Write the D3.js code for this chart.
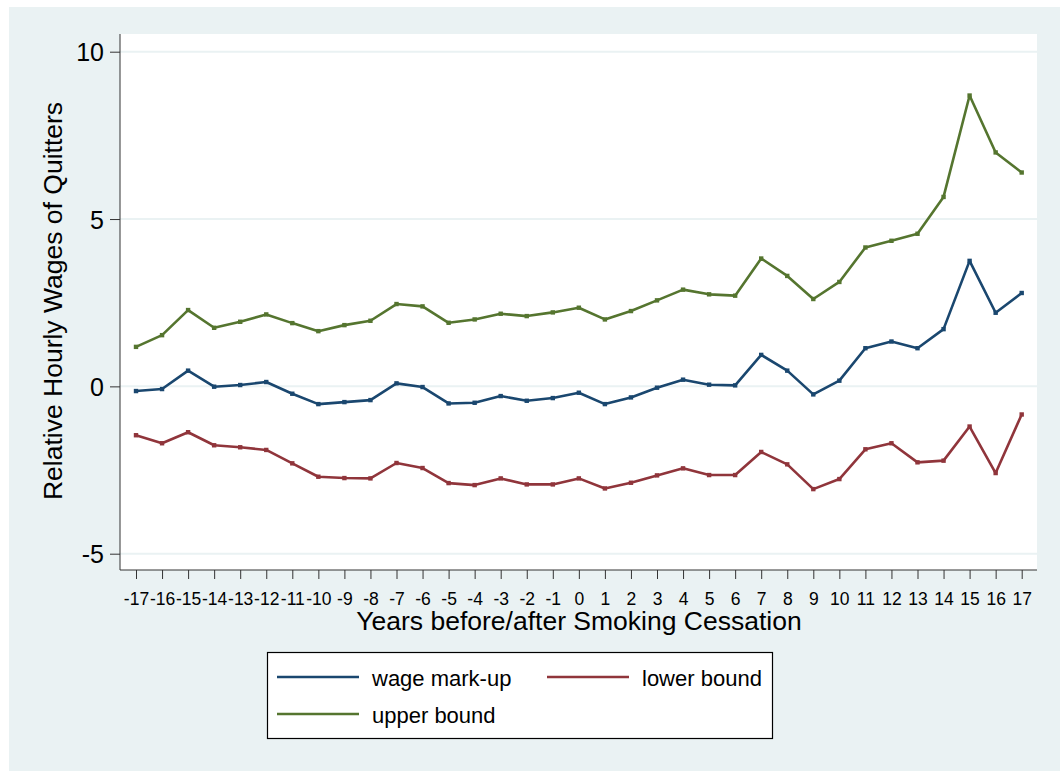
<!DOCTYPE html>
<html>
<head>
<meta charset="utf-8">
<script src="https://cdn.jsdelivr.net/npm/d3@7"></script>
<style>
    html, body { margin: 0; padding: 0; background: #fff; overflow: hidden; }
    svg { display: block; }
    svg text { font-family: "Liberation Sans", Arial, sans-serif; fill: #000; }
</style>
</head>
<body>
<div id="chart"></div>
<script>

// data
let years = d3.range(-17, 18);
let wageMarkup = [-0.14, -0.08, 0.47, -0.01, 0.04, 0.13, -0.22, -0.53, -0.47, -0.41, 0.09, -0.02,
    -0.51, -0.49, -0.29, -0.43, -0.35, -0.19, -0.53, -0.33, -0.04, 0.20, 0.05, 0.03,
    0.94, 0.47, -0.24, 0.17, 1.14, 1.34, 1.14, 1.71, 3.75, 2.20, 2.79];
let lowerBound = [-1.46, -1.70, -1.37, -1.76, -1.82, -1.90, -2.30, -2.70, -2.74, -2.75, -2.29, -2.44,
    -2.89, -2.95, -2.75, -2.93, -2.93, -2.75, -3.05, -2.88, -2.66, -2.45, -2.65, -2.65,
    -1.96, -2.33, -3.07, -2.77, -1.88, -1.70, -2.27, -2.22, -1.20, -2.59, -0.84];
let upperBound = [1.18, 1.53, 2.28, 1.75, 1.93, 2.15, 1.89, 1.65, 1.83, 1.96, 2.46, 2.39,
    1.90, 2.00, 2.17, 2.10, 2.21, 2.35, 2.00, 2.25, 2.57, 2.89, 2.75, 2.71,
    3.82, 3.30, 2.61, 3.12, 4.15, 4.35, 4.56, 5.66, 8.69, 6.99, 6.39];
let yTicks = [-5, 0, 5, 10];

class LineVis {

    constructor(parentElement) {
        this.parentElement = parentElement;
        this.series = [
            {name: 'wage mark-up', values: wageMarkup, color: '#1a476f'},
            {name: 'lower bound', values: lowerBound, color: '#90353b'},
            {name: 'upper bound', values: upperBound, color: '#55752f'}
        ];
        this.initVis();
    }

    initVis() {
        let vis = this;

        vis.width = 1060;
        vis.height = 771;
        vis.plot = {left: 120, right: 1037, top: 34, bottom: 570};

        vis.svg = d3.select("#" + vis.parentElement).append("svg")
            .attr("width", vis.width)
            .attr("height", vis.height);

        // graph region background
        vis.svg.append("rect")
            .attr("x", 9).attr("y", 7)
            .attr("width", vis.width - 9).attr("height", vis.height - 7)
            .attr("fill", "#eaf2f3");

        // plot region
        vis.svg.append("rect")
            .attr("x", vis.plot.left).attr("y", vis.plot.top)
            .attr("width", vis.plot.right - vis.plot.left)
            .attr("height", vis.plot.bottom - vis.plot.top)
            .attr("fill", "#fff");

        vis.x = d3.scaleLinear().domain([-17, 17]).range([136, 1021.7]);
        vis.y = d3.scaleLinear().domain([-5, 10]).range([553.7, 51.7]);

        // grid lines
        vis.svg.append("g").selectAll("line")
            .data(yTicks)
            .enter().append("line")
            .attr("x1", vis.plot.left).attr("x2", vis.plot.right)
            .attr("y1", d => vis.y(d)).attr("y2", d => vis.y(d))
            .attr("stroke", "#eaf2f3")
            .attr("stroke-width", 2);

        // y axis
        let yAxis = d3.axisLeft(vis.y).tickValues(yTicks).tickSize(10).tickPadding(6);
        vis.yAxisG = vis.svg.append("g")
            .attr("transform", `translate(${vis.plot.left}, 0)`)
            .call(yAxis);
        vis.yAxisG.select(".domain").attr("d", `M0,${vis.plot.top}V${vis.plot.bottom}`).attr("stroke", "#333");
        vis.yAxisG.selectAll(".tick line").attr("stroke", "#333");
        vis.yAxisG.selectAll(".tick text")
            .style("font-size", "25px")
            .attr("dy", "0.36em")
            .text(d => d < 0 ? "-" + Math.abs(d) : d);

        // x axis
        let xAxis = d3.axisBottom(vis.x).tickValues(years).tickSize(9).tickPadding(4)
            .tickFormat(d3.format("d"));
        vis.xAxisG = vis.svg.append("g")
            .attr("transform", `translate(0, ${vis.plot.bottom})`)
            .call(xAxis);
        vis.xAxisG.select(".domain").attr("d", `M${vis.plot.left},0H${vis.plot.right}`).attr("stroke", "#333");
        vis.xAxisG.selectAll(".tick line").attr("stroke", "#333");
        vis.xAxisG.selectAll(".tick text")
            .style("font-size", "17.5px")
            .attr("y", 35).attr("dy", 0)
            .text(d => d < 0 ? "-" + Math.abs(d) : d);

        // axis titles
        vis.svg.append("text")
            .attr("x", 579).attr("y", 630)
            .attr("text-anchor", "middle")
            .style("font-size", "26.5px")
            .text("Years before/after Smoking Cessation");

        vis.svg.append("text")
            .attr("transform", `translate(62, 301) rotate(-90)`)
            .attr("text-anchor", "middle")
            .style("font-size", "26.5px")
            .text("Relative Hourly Wages of Quitters");

        vis.line = d3.line()
            .x((d, i) => vis.x(years[i]))
            .y(d => vis.y(d));

        vis.updateVis();
    }

    updateVis() {
        let vis = this;

        // draw series, green first so blue/red sit on top like the original
        let order = [vis.series[2], vis.series[1], vis.series[0]];
        order.forEach(s => {
            vis.svg.append("path")
                .datum(s.values)
                .attr("fill", "none")
                .attr("stroke", s.color)
                .attr("stroke-width", 2.6)
                .attr("stroke-linejoin", "round")
                .attr("d", vis.line);

            vis.svg.append("g").selectAll("rect")
                .data(s.values)
                .enter().append("rect")
                .attr("x", (d, i) => vis.x(years[i]) - 2.2)
                .attr("y", d => vis.y(d) - 2.2)
                .attr("width", 4.4).attr("height", 4.4)
                .attr("fill", s.color);
        });

        // legend
        vis.legend = vis.svg.append("g").attr("class", "legend");
        vis.legend.append("rect")
            .attr("x", 267.5).attr("y", 652.5)
            .attr("width", 505).attr("height", 86)
            .attr("fill", "#fff")
            .attr("stroke", "#000")
            .attr("stroke-width", 1.2);

        let legendPos = [
            {x: 277, y: 677, tx: 372},
            {x: 547, y: 677, tx: 642},
            {x: 277, y: 714, tx: 372}
        ];
        vis.series.forEach((s, i) => {
            let p = legendPos[i];
            vis.legend.append("line")
                .attr("x1", p.x).attr("x2", p.x + 82)
                .attr("y1", p.y).attr("y2", p.y)
                .attr("stroke", s.color)
                .attr("stroke-width", 2.6);
            vis.legend.append("text")
                .attr("x", p.tx).attr("y", p.y + 9)
                .style("font-size", "22px")
                .text(s.name);
        });
    }
}

new LineVis("chart");
</script>
</body>
</html>
